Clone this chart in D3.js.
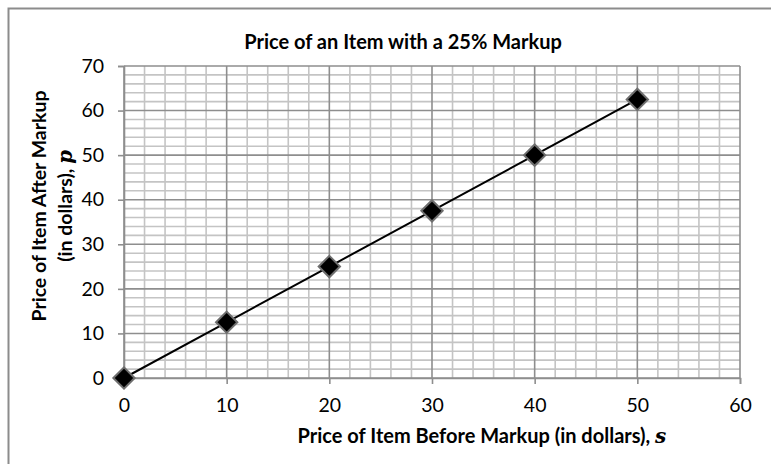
<!DOCTYPE html>
<html>
<head>
<meta charset="utf-8">
<script src="https://cdn.jsdelivr.net/npm/d3@7"></script>
<style>
  body { margin: 0; background: #fff; }
  svg { display: block; font-family: Lato, "Open Sans", sans-serif; }
</style>
</head>
<body>
<div id="chart"></div>
<script>
// Price before markup (s) and after a 25% markup (p)
let before = [0, 10, 20, 30, 40, 50];
let after = [0, 12.5, 25, 37.5, 50, 62.5];
let xTicks = [0, 10, 20, 30, 40, 50, 60];
let yTicks = [0, 10, 20, 30, 40, 50, 60, 70];

let width = 771;
let height = 464;
let plot = { left: 124, right: 740, top: 66, bottom: 378 };

let svg = d3.select('#chart').append('svg')
  .attr('width', width)
  .attr('height', height);

// outer chart border (only top/left fall inside the picture)
svg.append('rect')
  .attr('x', 8.5).attr('y', 8.5)
  .attr('width', 900).attr('height', 700)
  .attr('fill', 'none')
  .attr('stroke', '#8c8c8c')
  .attr('stroke-width', 2);

let x = d3.scaleLinear().domain([0, 60]).range([plot.left, plot.right]);
let y = d3.scaleLinear().domain([0, 70]).range([plot.bottom, plot.top]);

// minor grid every 2
let minor = d3.range(0, 61, 2).filter(v => v % 10 !== 0);
let minorY = d3.range(0, 71, 2).filter(v => v % 10 !== 0);

let grid = svg.append('g');
grid.selectAll('line.mx')
  .data(minor)
  .enter().append('line')
    .attr('x1', d => x(d)).attr('x2', d => x(d))
    .attr('y1', plot.top).attr('y2', plot.bottom)
    .attr('stroke', '#c4c4c4').attr('stroke-width', 1.6);
grid.selectAll('line.my')
  .data(minorY)
  .enter().append('line')
    .attr('y1', d => y(d)).attr('y2', d => y(d))
    .attr('x1', plot.left).attr('x2', plot.right)
    .attr('stroke', '#c4c4c4').attr('stroke-width', 1.6);

// major grid
grid.selectAll('line.Mx')
  .data(xTicks)
  .enter().append('line')
    .attr('x1', d => x(d)).attr('x2', d => x(d))
    .attr('y1', plot.top).attr('y2', plot.bottom)
    .attr('stroke', '#8e8e8e').attr('stroke-width', 1.6);
grid.selectAll('line.My')
  .data(yTicks)
  .enter().append('line')
    .attr('y1', d => y(d)).attr('y2', d => y(d))
    .attr('x1', plot.left).attr('x2', plot.right)
    .attr('stroke', '#8e8e8e').attr('stroke-width', 1.6);

// axes
let xAxis = svg.append('g')
  .attr('transform', `translate(0,${plot.bottom})`)
  .call(d3.axisBottom(x).tickValues(xTicks).tickSize(6).tickPadding(14));
let yAxis = svg.append('g')
  .attr('transform', `translate(${plot.left},0)`)
  .call(d3.axisLeft(y).tickValues(yTicks).tickSize(6).tickPadding(14));

[xAxis, yAxis].forEach(a => {
  a.select('.domain').attr('stroke', '#8e8e8e').attr('stroke-width', 1.6);
  a.selectAll('.tick line').attr('stroke', '#8e8e8e').attr('stroke-width', 1.6);
  a.selectAll('.tick text')
    .attr('font-family', 'Lato, sans-serif')
    .attr('font-size', 19.5)
    .attr('fill', '#000');
});

// series line
let line = d3.line()
  .x((d, i) => x(before[i]))
  .y(d => y(d));

svg.append('path')
  .datum(after)
  .attr('d', line)
  .attr('fill', 'none')
  .attr('stroke', '#000')
  .attr('stroke-width', 2);

// diamond markers
let diamond = d3.symbol().type(d3.symbolDiamond2).size(290);
svg.selectAll('path.marker')
  .data(after)
  .enter().append('path')
    .attr('class', 'marker')
    .attr('d', diamond)
    .attr('transform', (d, i) => `translate(${x(before[i])},${y(d)})`)
    .attr('fill', '#000')
    .attr('stroke', '#6e6e6e')
    .attr('stroke-width', 2);

// title
svg.append('text')
  .attr('x', 403).attr('y', 49)
  .attr('text-anchor', 'middle')
  .attr('font-weight', 'bold')
  .attr('font-size', 20)
  .text('Price of an Item with a 25% Markup');

// x axis title
let xt = svg.append('text')
  .attr('x', 482).attr('y', 443)
  .attr('text-anchor', 'middle')
  .attr('font-weight', 'bold')
  .attr('font-size', 20);
xt.append('tspan').text('Price of Item Before Markup (in dollars), ');
xt.append('tspan').attr('font-style', 'italic').attr('font-family', '"DejaVu Serif", serif').text('s');

// y axis title, two lines
let yt = svg.append('text')
  .attr('transform', 'translate(46,206) rotate(-90)')
  .attr('text-anchor', 'middle')
  .attr('font-weight', 'bold')
  .attr('font-size', 19.5);
yt.append('tspan').attr('x', 0).attr('y', 0).text('Price of Item After Markup');
let l2 = yt.append('tspan').attr('x', 0).attr('dy', 26);
l2.append('tspan').text('(in dollars), ');
l2.append('tspan').attr('font-style', 'italic').attr('font-family', '"DejaVu Serif", serif').text('p');
</script>
</body>
</html>
